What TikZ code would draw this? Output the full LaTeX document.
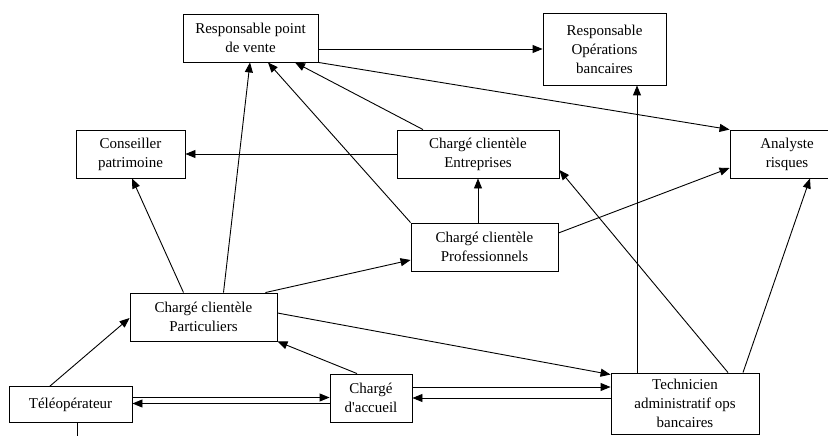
\documentclass[tikz,border=0pt]{standalone}
\usepackage{fontspec}
\setmainfont{Liberation Serif}
\usetikzlibrary{arrows.meta}

\tikzset{
  poste/.style={draw, line width=0.9pt, align=center, inner sep=1pt,
    font=\fontsize{15}{19}\selectfont},
  fleche/.style={line width=0.9pt, -{Triangle[length=10pt,width=8pt]}}
}

\begin{document}
\begin{tikzpicture}[x=1pt,y=-1pt]
\useasboundingbox (0,0) rectangle (828,436);

\node[poste, minimum width=135pt, minimum height=48pt] (rpv) at (250.5,38) {Responsable point\\de vente};
\node[poste, minimum width=123pt, minimum height=72pt] (rob) at (604.5,49) {Responsable\\Opérations\\bancaires};
\node[poste, minimum width=114pt, minimum height=48pt] (analyste) at (787,154) {Analyste\\risques};
\node[poste, minimum width=162pt, minimum height=48pt] (entreprises) at (478,154) {Chargé clientèle\\Entreprises};
\node[poste, minimum width=109pt, minimum height=48pt] (conseiller) at (130.5,154) {Conseiller\\patrimoine};
\node[poste, minimum width=147pt, minimum height=48pt] (professionnels) at (484.5,247) {Chargé clientèle\\Professionnels};
\node[poste, minimum width=147pt, minimum height=48pt] (particuliers) at (203.5,317) {Chargé clientèle\\Particuliers};
\node[poste, minimum width=123pt, minimum height=36pt] (teleop) at (70.5,404.5) {Téléopérateur};
\node[poste, minimum width=82pt, minimum height=48pt] (accueil) at (371,398) {Chargé\\d\textquotesingle accueil};
\node[poste, minimum width=148pt, minimum height=61pt] (technicien) at (685,403.5) {Technicien\\administratif ops\\bancaires};

% haut
\draw[fleche] (rpv.east |- rob.west) -- (rob.west);
\draw[fleche] (rpv.south east) -- (analyste.north west);
\draw[fleche] ([xshift=20pt]particuliers.north) -- ([xshift=-0.5pt]rpv.south);
\draw[fleche] (professionnels.north west) -- ([xshift=17.5pt]rpv.south);
\draw[fleche] ([xshift=-55pt]entreprises.north) -- ([xshift=44.5pt]rpv.south);

% milieu
\draw[fleche] (entreprises.west) -- (conseiller.east);
\draw[fleche] ([xshift=-20pt]particuliers.north) -- ([xshift=1.5pt]conseiller.south);
\draw[fleche] ([xshift=-12pt]particuliers.north east) -- ([yshift=-13pt]professionnels.west);
\draw[fleche] (entreprises.south |- professionnels.north) -- (entreprises.south);
\draw[fleche] ([yshift=14pt]professionnels.east) -- ([yshift=-14pt]analyste.west);
\draw[fleche] ([yshift=4pt]particuliers.east) -- ([yshift=-2pt]technicien.north west);

% technicien
\draw[fleche] ([xshift=-48pt]technicien.north) coordinate (t1) -- (t1 |- rob.south);
\draw[fleche] ([xshift=43pt]technicien.north) -- ([yshift=-16pt]entreprises.east);
\draw[fleche] ([xshift=58pt]technicien.north) -- ([xshift=23pt]analyste.south);

% bas
\draw[fleche] ([xshift=-14pt]accueil.north) -- (particuliers.south east);
\draw[fleche] ([xshift=-20.5pt]teleop.north) -- ([yshift=-1pt]particuliers.west);
\draw[fleche] ([yshift=7pt]teleop.east) coordinate (t2) -- (t2 -| accueil.west);
\draw[fleche] ([yshift=-5.5pt]accueil.west) coordinate (t3) -- (t3 -| teleop.east);
\draw[fleche] ([yshift=11pt]accueil.east) coordinate (t4) -- (t4 -| technicien.west);
\draw[fleche] (technicien.west |- accueil.east) -- (accueil.east);
\coordinate (sortie) at (77,440);
\draw[line width=0.9pt] ([xshift=6.5pt]teleop.south) -- (sortie);

\end{tikzpicture}
\end{document}
